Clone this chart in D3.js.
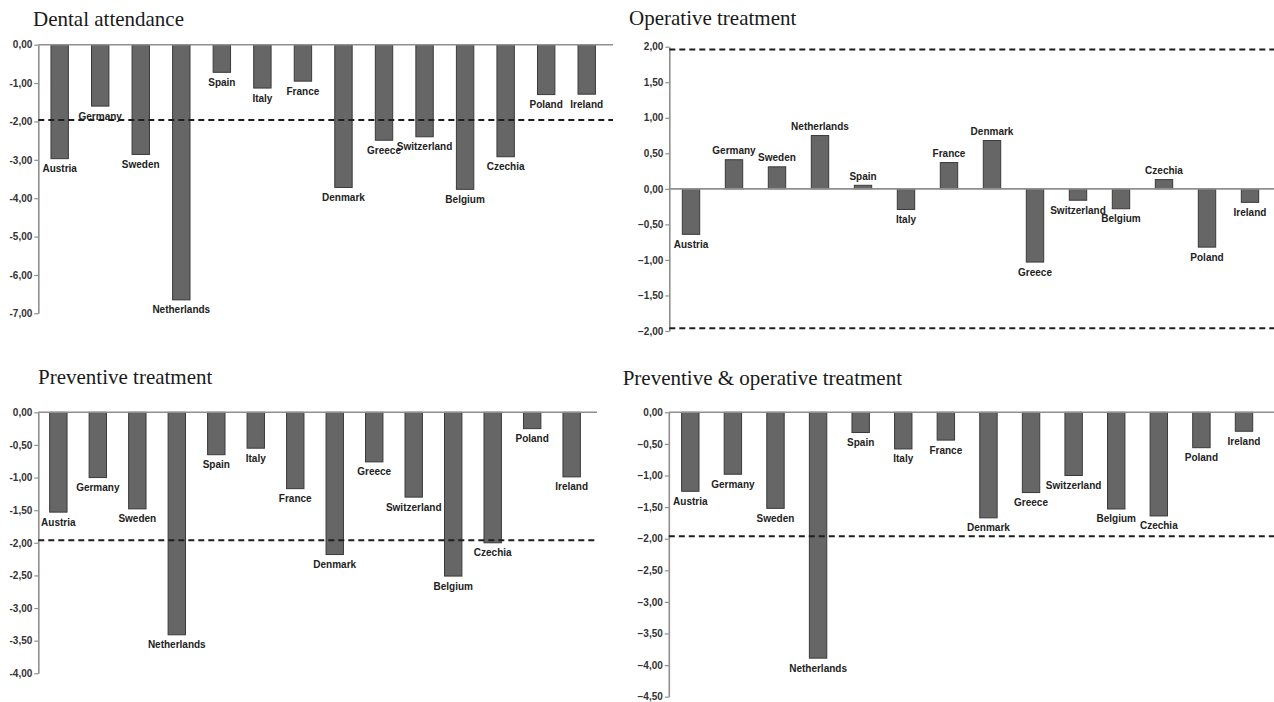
<!DOCTYPE html>
<html>
<head>
<meta charset="utf-8">
<script src="https://cdn.jsdelivr.net/npm/d3@7"></script>
<style>
  html, body { margin: 0; padding: 0; background: #fff; }
  svg { display: block; }
</style>
</head>
<body>
<svg id="chart" width="1274" height="702"></svg>
<script>
// ---------- DATA ----------
const countries = ["Austria", "Germany", "Sweden", "Netherlands", "Spain", "Italy", "France",
  "Denmark", "Greece", "Switzerland", "Belgium", "Czechia", "Poland", "Ireland"];

const dentalAttendance = [-2.97, -1.60, -2.86, -6.65, -0.72, -1.13, -0.95, -3.72, -2.49, -2.40, -3.77, -2.92, -1.30, -1.29];
const operativeTreatment = [-0.64, 0.41, 0.31, 0.75, 0.05, -0.29, 0.37, 0.68, -1.03, -0.16, -0.28, 0.13, -0.82, -0.19];
const preventiveTreatment = [-1.53, -1.00, -1.48, -3.41, -0.65, -0.55, -1.17, -2.18, -0.76, -1.30, -2.51, -2.00, -0.25, -0.99];
const preventiveOperative = [-1.25, -0.98, -1.52, -3.89, -0.32, -0.58, -0.44, -1.67, -1.27, -1.00, -1.53, -1.64, -0.56, -0.30];

const ticksDental = [0, -1, -2, -3, -4, -5, -6, -7];
const ticksOperative = [2, 1.5, 1, 0.5, 0, -0.5, -1, -1.5, -2];
const ticksPreventive = [0, -0.5, -1, -1.5, -2, -2.5, -3, -3.5, -4];
const ticksPrevOp = [0, -0.5, -1, -1.5, -2, -2.5, -3, -3.5, -4, -4.5];

const titles = ["Dental attendance", "Operative treatment", "Preventive treatment", "Preventive & operative treatment"];
const significance = 1.96;

// ---------- LAYOUT ----------
const panels = [
  { title: titles[0], values: dentalAttendance, ticks: ticksDental, minus: "-",
    domain: [-7, 0], yRange: [313.3, 44.7], axisX: 38.3, bandRange: [39.4, 607.0], lineEnd: 613,
    titleX: 33, titleY: 26, dashed: [-significance] },
  { title: titles[1], values: operativeTreatment, ticks: ticksOperative, minus: "\u2212",
    domain: [-2, 2], yRange: [331, 46.7], axisX: 669.3, bandRange: [669.5, 1271.5], lineEnd: 1274,
    titleX: 629, titleY: 25, dashed: [significance, -significance] },
  { title: titles[2], values: preventiveTreatment, ticks: ticksPreventive, minus: "-",
    domain: [-4, 0], yRange: [673.3, 412.3], axisX: 38.3, bandRange: [38.6, 591.4], lineEnd: 597,
    titleX: 38, titleY: 384, dashed: [-significance] },
  { title: titles[3], values: preventiveOperative, ticks: ticksPrevOp, minus: "\u2212",
    domain: [-4.5, 0], yRange: [696.7, 412.3], axisX: 668.8, bandRange: [669.0, 1265.3], lineEnd: 1274,
    titleX: 622.7, titleY: 385, dashed: [-significance] }
];

const svg = d3.select("#chart");
const barWidth = 17.4;

panels.forEach(p => {
  const g = svg.append("g");
  const y = d3.scaleLinear().domain(p.domain).range(p.yRange);
  const x = d3.scaleBand().domain(countries).range(p.bandRange);
  const pad = 1 - barWidth / x.step();
  x.paddingInner(pad).paddingOuter(pad / 2);

  // title
  g.append("text")
    .attr("x", p.titleX).attr("y", p.titleY)
    .attr("font-family", "'Liberation Serif', 'Times New Roman', serif")
    .attr("font-size", 21)
    .attr("fill", "#1a1a1a")
    .text(p.title);

  // bars
  g.selectAll("rect.bar")
    .data(p.values.map((v, i) => ({ c: countries[i], v })))
    .join("rect")
    .attr("class", "bar")
    .attr("x", d => x(d.c))
    .attr("width", x.bandwidth())
    .attr("y", d => y(Math.max(0, d.v)))
    .attr("height", d => Math.abs(y(d.v) - y(0)))
    .attr("fill", "#666666")
    .attr("stroke", "#3a3a3a")
    .attr("stroke-width", 1);

  // zero line
  g.append("line")
    .attr("x1", p.axisX).attr("x2", p.lineEnd)
    .attr("y1", y(0)).attr("y2", y(0))
    .attr("stroke", "#8f8f8f").attr("stroke-width", 1.6);

  // axis
  const fmt = v => {
    const s = d3.format(".2f")(Math.abs(v)).replace(".", ",");
    return v < 0 ? p.minus + s : s;
  };
  const axis = d3.axisLeft(y).tickValues(p.ticks).tickSize(4).tickSizeOuter(0).tickPadding(2).tickFormat(fmt);
  const ax = g.append("g").attr("transform", `translate(${p.axisX},0)`).call(axis);
  ax.select(".domain").attr("stroke", "#8f8f8f").attr("stroke-width", 1.6);
  ax.selectAll(".tick line").attr("stroke", "#8f8f8f").attr("stroke-width", 1.2);
  ax.selectAll(".tick text")
    .attr("font-family", "'Liberation Sans', Arial, sans-serif")
    .attr("font-size", 10)
    .attr("font-weight", "bold")
    .attr("fill", "#333");

  // dashed significance lines
  p.dashed.forEach(dv => {
    g.append("line")
      .attr("x1", p.axisX).attr("x2", p.lineEnd)
      .attr("y1", y(dv)).attr("y2", y(dv))
      .attr("stroke", "#1e1e1e").attr("stroke-width", 2)
      .attr("stroke-dasharray", "6,4");
  });

  // country labels
  g.selectAll("text.lbl")
    .data(p.values.map((v, i) => ({ c: countries[i], v })))
    .join("text")
    .attr("class", "lbl")
    .attr("x", d => x(d.c) + x.bandwidth() / 2)
    .attr("y", d => d.v >= 0 ? y(d.v) - 5.5 : y(d.v) + 13.5)
    .attr("text-anchor", "middle")
    .attr("font-family", "'Liberation Sans', Arial, sans-serif")
    .attr("font-size", 10)
    .attr("font-weight", "bold")
    .attr("fill", "#222")
    .text(d => d.c);
});
</script>
</body>
</html>
